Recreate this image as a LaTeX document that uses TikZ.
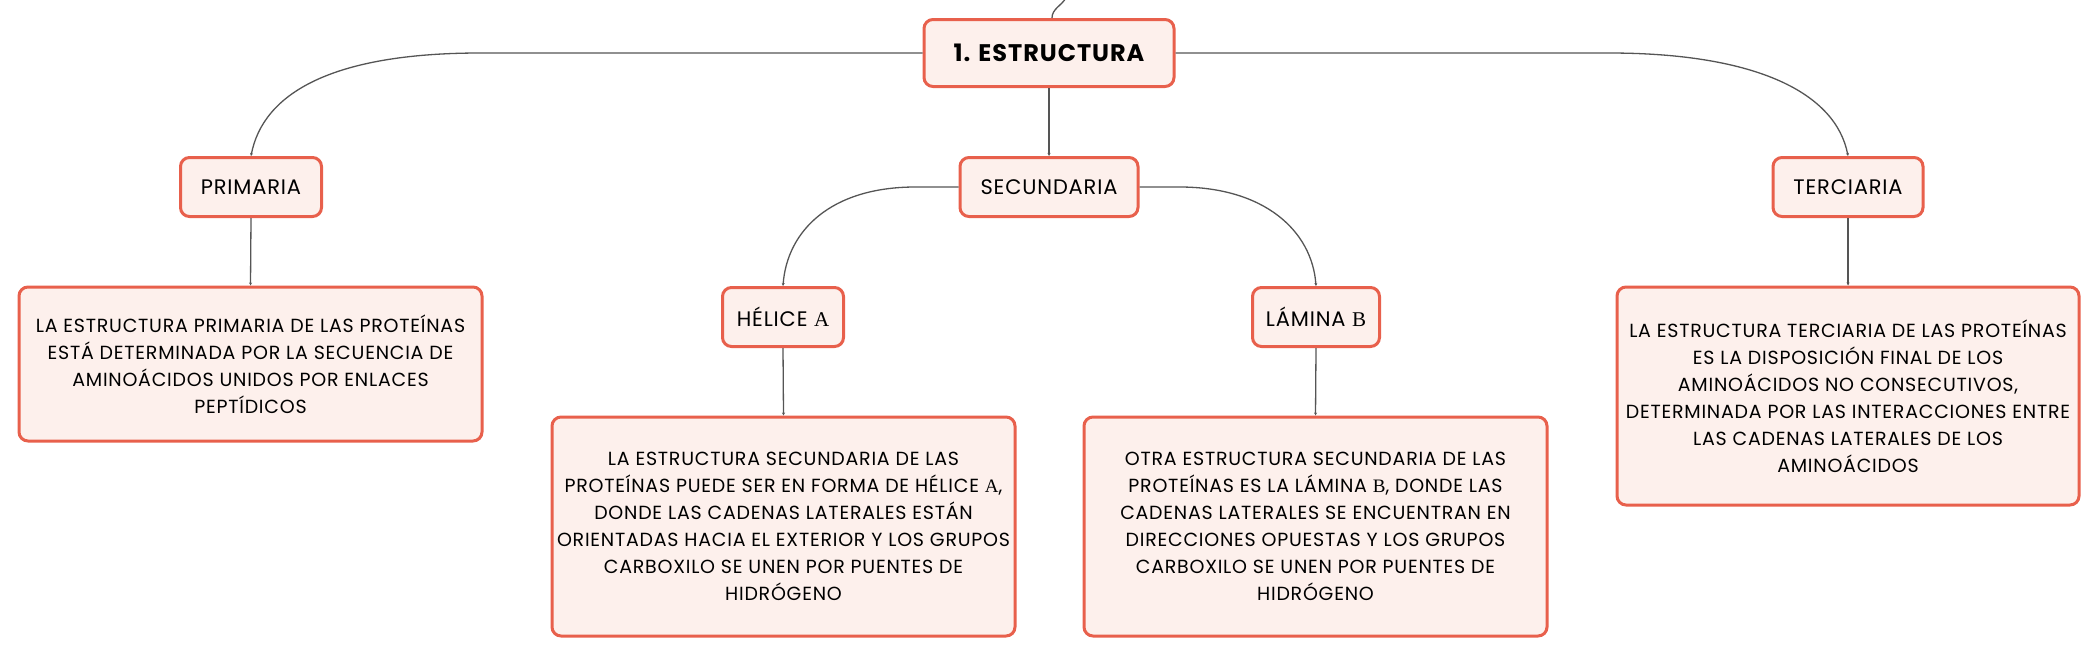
\documentclass[tikz,border=0pt]{standalone}
\usepackage{fontspec}
\setmainfont{Poppins}[LetterSpace=4]
\newfontfamily\grk{Liberation Serif}
\usetikzlibrary{arrows.meta}
\definecolor{boxline}{HTML}{E8604C}
\definecolor{boxfill}{HTML}{FDF0EC}
\definecolor{conn}{HTML}{555555}
\tikzset{
  box/.style={draw=boxline, fill=boxfill, line width=3pt, rounded corners=9pt, align=center, inner sep=0pt},
  title/.style={box, minimum width=250pt, minimum height=67pt, font=\fontsize{24}{28}\selectfont\bfseries},
  sub/.style={box, minimum height=59pt, font=\fontsize{21}{24}\selectfont},
  body/.style={box, font=\fontsize{19}{27}\selectfont},
  link/.style={draw=conn, line width=1.3pt, -{Stealth[length=3pt,width=3pt]}}
}
\begin{document}
\begin{tikzpicture}[x=1pt,y=-1pt]
\useasboundingbox (0,0) rectangle (2100,656);
\node[title] (estr) at (1049,53) {1. ESTRUCTURA};
\node[sub, minimum width=141pt] (prim) at (251,187) {PRIMARIA};
\node[sub, minimum width=178pt] (sec) at (1049,187) {SECUNDARIA};
\node[sub, minimum width=150pt] (ter) at (1848,187) {TERCIARIA};
\node[sub, minimum width=121pt] (hel) at (783,317) {HÉLICE {\grk Α}};
\node[sub, minimum width=127pt] (lam) at (1316,317) {LÁMINA {\grk Β}};
\node[body, minimum width=463pt, minimum height=154pt] (primt) at (250.5,364) {LA ESTRUCTURA PRIMARIA DE LAS PROTEÍNAS\\ESTÁ DETERMINADA POR LA SECUENCIA DE\\AMINOÁCIDOS UNIDOS POR ENLACES\\PEPTÍDICOS};
\node[body, minimum width=463pt, minimum height=219pt] (helt) at (783.5,526.5) {LA ESTRUCTURA SECUNDARIA DE LAS\\PROTEÍNAS PUEDE SER EN FORMA DE HÉLICE {\grk Α},\\DONDE LAS CADENAS LATERALES ESTÁN\\ORIENTADAS HACIA EL EXTERIOR Y LOS GRUPOS\\CARBOXILO SE UNEN POR PUENTES DE\\HIDRÓGENO};
\node[body, minimum width=463pt, minimum height=219pt] (lamt) at (1315.5,526.5) {OTRA ESTRUCTURA SECUNDARIA DE LAS\\PROTEÍNAS ES LA LÁMINA {\grk Β}, DONDE LAS\\CADENAS LATERALES SE ENCUENTRAN EN\\DIRECCIONES OPUESTAS Y LOS GRUPOS\\CARBOXILO SE UNEN POR PUENTES DE\\HIDRÓGENO};
\node[body, minimum width=462pt, minimum height=218pt] (tert) at (1848,396) {LA ESTRUCTURA TERCIARIA DE LAS PROTEÍNAS\\ES LA DISPOSICIÓN FINAL DE LOS\\AMINOÁCIDOS NO CONSECUTIVOS,\\DETERMINADA POR LAS INTERACCIONES ENTRE\\LAS CADENAS LATERALES DE LOS\\AMINOÁCIDOS};
\coordinate (up) at (1066,-2);
\draw[draw=conn, line width=1.3pt] ([xshift=3pt]estr.north) .. controls +(0,-9) and +(-5,8) .. (up);
\draw[link] (estr.west) -- ++(-442,0) .. controls +(-150,0) and +(12,-62) .. (prim.north);
\draw[link] (estr.east) -- ++(433,0) .. controls +(150,0) and +(-12,-62) .. (ter.north);
\draw[link] (estr.south) -- (sec.north);
\draw[link] (sec.west) -- ++(-43,0) .. controls +(-85,0) and +(4,-55) .. (hel.north);
\draw[link] (sec.east) -- ++(40,0) .. controls +(85,0) and +(-4,-55) .. (lam.north);
\draw[link] (prim.south) -- (primt.north);
\draw[link] (hel.south) -- (helt.north);
\draw[link] (lam.south) -- (lamt.north);
\draw[link] (ter.south) -- (tert.north);
\end{tikzpicture}
\end{document}
